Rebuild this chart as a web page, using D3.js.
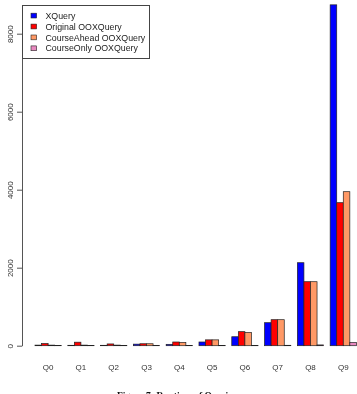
<!DOCTYPE html>
<html>
<head>
<meta charset="utf-8">
<script src="https://cdn.jsdelivr.net/npm/d3@7"></script>
<style>
  html, body { margin: 0; padding: 0; background: #fff; }
  svg { display: block; will-change: transform; -webkit-font-smoothing: antialiased; }
</style>
</head>
<body>
<svg id="chart" width="357" height="394"></svg>
<script>
const categories = ["Q0","Q1","Q2","Q3","Q4","Q5","Q6","Q7","Q8","Q9"];
const seriesNames = ["XQuery","Original OOXQuery","CourseAhead OOXQuery","CourseOnly OOXQuery"];
const xquery      = [15, 10, 10, 40, 35, 95, 230, 590, 2128, 8740];
const original    = [55, 90, 45, 50, 95, 150, 360, 667, 1641, 3667];
const courseAhead = [15, 15, 15, 50, 85, 150, 340, 667, 1641, 3949];
const courseOnly  = [5, 5, 5, 5, 5, 5, 5, 10, 20, 80];
const yTicks = [0, 2000, 4000, 6000, 8000];
const colors = ["#0000FF", "#FF0000", "#FF9966", "#E889C0"];
const caption = "Figure 7: Runtime of Queries";

const series = [xquery, original, courseAhead, courseOnly];
const svg = d3.select("#chart");

const y = d3.scaleLinear().domain([0, 8000]).range([345.7, 33.7]);
const x0 = d3.scaleBand().domain(categories).range([35, 356.4]).paddingInner(0.2).paddingOuter(0);
const x1 = d3.scaleBand().domain(d3.range(series.length)).range([0, x0.bandwidth()]).padding(0);

// bars
const groups = svg.append("g").selectAll("g").data(categories).join("g")
  .attr("transform", d => `translate(${x0(d)},0)`);
groups.selectAll("rect")
  .data((c, i) => series.map((s, k) => ({k, v: s[i]})))
  .join("rect")
  .attr("x", d => x1(d.k))
  .attr("width", x1.bandwidth())
  .attr("y", d => y(d.v))
  .attr("height", d => y(0) - y(d.v))
  .attr("fill", d => colors[d.k])
  .attr("stroke", "#222")
  .attr("stroke-width", 0.7);

// category labels
svg.append("g").selectAll("text").data(categories).join("text")
  .attr("x", d => x0(d) + x0.bandwidth() / 2)
  .attr("y", 369.5)
  .attr("text-anchor", "middle")
  .attr("font-family", "Liberation Sans, Arial, sans-serif")
  .attr("font-size", 8)
  .attr("fill", "#333")
  .text(d => d);

// y axis
const axisG = svg.append("g").attr("transform", "translate(22,0)");
const axis = d3.axisLeft(y).tickValues(yTicks).tickSize(5).tickSizeOuter(0).tickFormat(d3.format("d"));
axisG.call(axis);
axisG.select(".domain").attr("stroke", "#555").attr("stroke-width", 1);
axisG.selectAll(".tick line").attr("stroke", "#555");
axisG.selectAll(".tick text")
  .attr("font-family", "Liberation Sans, Arial, sans-serif")
  .attr("font-size", 8)
  .attr("fill", "#333")
  .attr("text-anchor", "middle")
  .attr("x", 0).attr("dy", 0)
  .attr("transform", "translate(-9,0) rotate(-90)");

// legend
const lg = svg.append("g");
lg.append("rect").attr("x", 22.5).attr("y", 5.5).attr("width", 127).attr("height", 53)
  .attr("fill", "#fff").attr("stroke", "#444").attr("stroke-width", 1);
const rows = lg.selectAll("g.row").data(seriesNames).join("g").attr("class", "row")
  .attr("transform", (d, i) => `translate(0,${15.7 + i * 10.9})`);
rows.append("rect").attr("x", 31).attr("y", -2.5).attr("width", 5.6).attr("height", 4.8)
  .attr("fill", (d, i) => colors[i]).attr("stroke", "#222").attr("stroke-width", 0.6);
rows.append("text").attr("x", 45.5).attr("y", 3)
  .attr("font-family", "Liberation Sans, Arial, sans-serif")
  .attr("font-size", 8.8)
  .attr("fill", "#222")
  .text(d => d);

// caption (cut off at bottom, as in the reference)
svg.append("text").attr("x", 117).attr("y", 398.5)
  .attr("font-family", "Liberation Serif, Times New Roman, serif")
  .attr("font-weight", "bold")
  .attr("font-size", 9.5)
  .attr("fill", "#111")
  .text(caption);
</script>
</body>
</html>
